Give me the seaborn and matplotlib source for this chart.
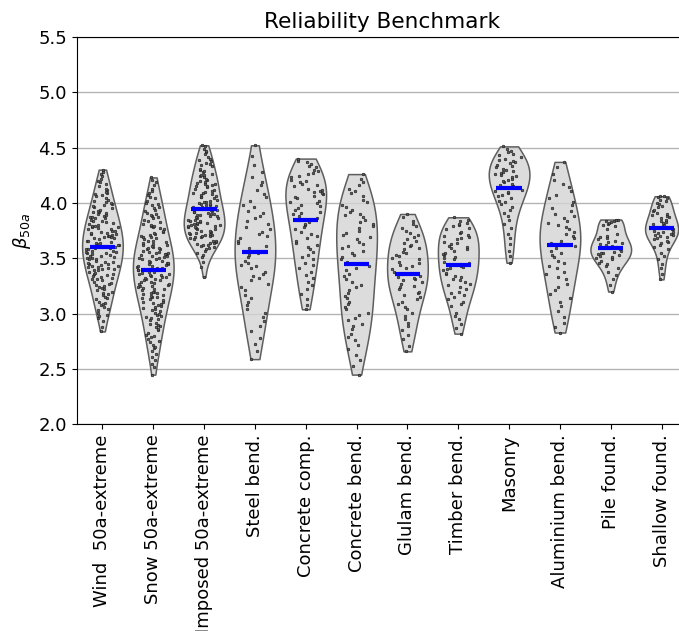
import numpy as np
import pandas as pd
import matplotlib
matplotlib.use("Agg")
import matplotlib.pyplot as plt
import seaborn as sns

# Limit-state cases along the x axis
categories = ["Wind  50a-extreme", "Snow 50a-extreme", "Imposed 50a-extreme",
              "Steel bend.", "Concrete comp.", "Concrete bend.", "Glulam bend.",
              "Timber bend.", "Masonry", "Aluminium bend.", "Pile found.",
              "Shallow found."]

# Reliability index beta_50a for each design case
wind = [2.84, 2.88, 2.93, 2.96, 2.98, 2.99, 3.01, 3.03, 3.04, 3.06, 3.08, 3.09,
        3.10, 3.11, 3.13, 3.14, 3.15, 3.17, 3.18, 3.19, 3.20, 3.21, 3.22, 3.23,
        3.24, 3.25, 3.26, 3.27, 3.28, 3.29, 3.30, 3.31, 3.31, 3.32, 3.33, 3.34,
        3.35, 3.36, 3.36, 3.37, 3.38, 3.39, 3.39, 3.40, 3.40, 3.41, 3.42, 3.42,
        3.43, 3.43, 3.44, 3.45, 3.45, 3.46, 3.47, 3.47, 3.48, 3.49, 3.49, 3.50,
        3.50, 3.51, 3.52, 3.52, 3.53, 3.54, 3.55, 3.55, 3.56, 3.56, 3.57, 3.57,
        3.58, 3.58, 3.59, 3.59, 3.60, 3.60, 3.61, 3.61, 3.61, 3.62, 3.62, 3.63,
        3.64, 3.64, 3.65, 3.66, 3.66, 3.67, 3.68, 3.68, 3.69, 3.69, 3.70, 3.70,
        3.71, 3.72, 3.72, 3.73, 3.73, 3.74, 3.75, 3.75, 3.76, 3.76, 3.77, 3.78,
        3.78, 3.79, 3.79, 3.80, 3.81, 3.82, 3.83, 3.84, 3.84, 3.85, 3.86, 3.86,
        3.87, 3.87, 3.88, 3.89, 3.90, 3.91, 3.92, 3.92, 3.93, 3.94, 3.95, 3.96,
        3.97, 3.98, 3.99, 4.00, 4.01, 4.02, 4.03, 4.04, 4.06, 4.07, 4.08, 4.09,
        4.10, 4.12, 4.13, 4.15, 4.17, 4.19, 4.20, 4.22, 4.24, 4.26, 4.28, 4.30]

snow = [2.45, 2.52, 2.55, 2.58, 2.61, 2.64, 2.66, 2.69, 2.70, 2.72, 2.74, 2.75,
        2.77, 2.79, 2.80, 2.81, 2.83, 2.85, 2.86, 2.88, 2.89, 2.90, 2.91, 2.92,
        2.94, 2.95, 2.96, 2.97, 2.98, 2.99, 3.00, 3.01, 3.02, 3.03, 3.04, 3.05,
        3.06, 3.07, 3.08, 3.09, 3.10, 3.11, 3.11, 3.12, 3.13, 3.14, 3.15, 3.15,
        3.16, 3.17, 3.18, 3.19, 3.19, 3.20, 3.20, 3.21, 3.22, 3.22, 3.23, 3.24,
        3.25, 3.25, 3.26, 3.27, 3.27, 3.28, 3.29, 3.29, 3.30, 3.30, 3.31, 3.31,
        3.32, 3.33, 3.33, 3.34, 3.35, 3.35, 3.36, 3.36, 3.37, 3.38, 3.38, 3.39,
        3.39, 3.40, 3.40, 3.41, 3.41, 3.42, 3.43, 3.43, 3.44, 3.45, 3.45, 3.46,
        3.46, 3.47, 3.48, 3.48, 3.49, 3.49, 3.50, 3.50, 3.51, 3.52, 3.52, 3.53,
        3.54, 3.54, 3.55, 3.55, 3.56, 3.56, 3.57, 3.58, 3.58, 3.59, 3.59, 3.60,
        3.61, 3.62, 3.62, 3.63, 3.64, 3.65, 3.66, 3.66, 3.67, 3.68, 3.69, 3.69,
        3.70, 3.71, 3.72, 3.73, 3.74, 3.75, 3.76, 3.77, 3.78, 3.79, 3.79, 3.80,
        3.81, 3.83, 3.84, 3.85, 3.86, 3.87, 3.88, 3.89, 3.90, 3.91, 3.93, 3.94,
        3.95, 3.96, 3.98, 3.99, 4.00, 4.02, 4.04, 4.05, 4.07, 4.09, 4.11, 4.13,
        4.16, 4.19, 4.21, 4.23]

imposed = [3.33, 3.42, 3.47, 3.51, 3.53, 3.55, 3.57, 3.58, 3.59, 3.60, 3.61,
           3.62, 3.62, 3.63, 3.64, 3.64, 3.65, 3.66, 3.66, 3.67, 3.68, 3.69,
           3.69, 3.70, 3.70, 3.71, 3.71, 3.72, 3.72, 3.73, 3.73, 3.74, 3.75,
           3.75, 3.76, 3.76, 3.77, 3.78, 3.78, 3.79, 3.79, 3.80, 3.80, 3.81,
           3.81, 3.82, 3.82, 3.83, 3.84, 3.84, 3.85, 3.85, 3.86, 3.86, 3.87,
           3.88, 3.88, 3.89, 3.89, 3.90, 3.90, 3.91, 3.92, 3.92, 3.93, 3.94,
           3.94, 3.95, 3.96, 3.96, 3.97, 3.98, 3.98, 3.99, 3.99, 4.00, 4.01,
           4.01, 4.02, 4.03, 4.04, 4.05, 4.05, 4.06, 4.07, 4.08, 4.09, 4.09,
           4.10, 4.11, 4.12, 4.13, 4.14, 4.15, 4.15, 4.16, 4.17, 4.17, 4.18,
           4.19, 4.20, 4.21, 4.22, 4.23, 4.24, 4.25, 4.25, 4.26, 4.28, 4.29,
           4.30, 4.31, 4.33, 4.34, 4.35, 4.36, 4.38, 4.39, 4.40, 4.41, 4.44,
           4.46, 4.47, 4.49, 4.51, 4.52]

steel = [2.59, 2.66, 2.73, 2.78, 2.84, 2.89, 2.93, 2.97, 3.01, 3.04, 3.08, 3.11,
         3.14, 3.17, 3.21, 3.24, 3.27, 3.30, 3.32, 3.34, 3.36, 3.38, 3.41, 3.43,
         3.44, 3.46, 3.48, 3.51, 3.53, 3.55, 3.57, 3.59, 3.61, 3.64, 3.66, 3.68,
         3.70, 3.72, 3.74, 3.76, 3.78, 3.81, 3.84, 3.86, 3.88, 3.91, 3.93, 3.96,
         3.98, 4.02, 4.05, 4.08, 4.12, 4.16, 4.19, 4.23, 4.28, 4.34, 4.42, 4.52]

concrete_comp = [3.04, 3.08, 3.13, 3.18, 3.22, 3.26, 3.29, 3.32, 3.35, 3.38,
                 3.41, 3.44, 3.46, 3.49, 3.51, 3.53, 3.56, 3.58, 3.60, 3.62,
                 3.64, 3.66, 3.68, 3.70, 3.72, 3.74, 3.76, 3.78, 3.80, 3.81,
                 3.83, 3.85, 3.86, 3.88, 3.90, 3.91, 3.92, 3.94, 3.95, 3.97,
                 3.98, 4.00, 4.01, 4.02, 4.04, 4.05, 4.06, 4.08, 4.09, 4.10,
                 4.11, 4.12, 4.13, 4.15, 4.16, 4.17, 4.19, 4.20, 4.21, 4.23,
                 4.24, 4.26, 4.27, 4.29, 4.30, 4.32, 4.33, 4.35, 4.37, 4.38,
                 4.40]

concrete_bend = [2.45, 2.53, 2.58, 2.63, 2.68, 2.72, 2.76, 2.79, 2.82, 2.86,
                 2.89, 2.91, 2.94, 2.96, 2.99, 3.01, 3.04, 3.06, 3.09, 3.11,
                 3.14, 3.16, 3.19, 3.21, 3.24, 3.26, 3.29, 3.31, 3.34, 3.36,
                 3.39, 3.41, 3.43, 3.45, 3.47, 3.49, 3.51, 3.53, 3.55, 3.57,
                 3.59, 3.61, 3.63, 3.65, 3.67, 3.69, 3.71, 3.73, 3.75, 3.77,
                 3.79, 3.81, 3.83, 3.85, 3.87, 3.89, 3.90, 3.92, 3.94, 3.96,
                 3.98, 4.01, 4.03, 4.06, 4.09, 4.11, 4.13, 4.16, 4.19, 4.22,
                 4.26]

glulam = [2.66, 2.71, 2.77, 2.81, 2.85, 2.89, 2.92, 2.95, 2.98, 3.01, 3.04,
          3.06, 3.09, 3.11, 3.13, 3.15, 3.17, 3.19, 3.20, 3.22, 3.24, 3.25,
          3.27, 3.29, 3.30, 3.31, 3.32, 3.33, 3.34, 3.36, 3.38, 3.40, 3.41,
          3.43, 3.44, 3.46, 3.47, 3.49, 3.50, 3.52, 3.53, 3.55, 3.56, 3.58,
          3.59, 3.61, 3.62, 3.64, 3.66, 3.67, 3.69, 3.71, 3.73, 3.75, 3.77,
          3.79, 3.81, 3.84, 3.87, 3.90]

timber = [2.82, 2.87, 2.91, 2.95, 2.98, 3.01, 3.07, 3.09, 3.11, 3.13, 3.15,
          3.17, 3.19, 3.20, 3.22, 3.24, 3.26, 3.27, 3.29, 3.30, 3.31, 3.33,
          3.34, 3.36, 3.37, 3.39, 3.40, 3.41, 3.42, 3.43, 3.45, 3.46, 3.47,
          3.49, 3.50, 3.51, 3.53, 3.54, 3.55, 3.57, 3.58, 3.59, 3.60, 3.61,
          3.63, 3.64, 3.65, 3.67, 3.68, 3.69, 3.70, 3.71, 3.73, 3.74, 3.76,
          3.77, 3.79, 3.80, 3.81, 3.82, 3.84, 3.85, 3.87]

masonry = [3.46, 3.52, 3.57, 3.63, 3.68, 3.72, 3.77, 3.81, 3.85, 3.88, 3.91,
           3.94, 3.96, 3.99, 4.01, 4.02, 4.04, 4.06, 4.07, 4.09, 4.10, 4.11,
           4.12, 4.14, 4.15, 4.16, 4.17, 4.19, 4.20, 4.21, 4.22, 4.23, 4.24,
           4.25, 4.26, 4.27, 4.28, 4.29, 4.30, 4.31, 4.32, 4.33, 4.34, 4.36,
           4.37, 4.38, 4.39, 4.40, 4.41, 4.43, 4.44, 4.46, 4.47, 4.49, 4.51]

aluminium = [2.83, 2.88, 2.92, 2.97, 3.02, 3.07, 3.11, 3.14, 3.18, 3.21, 3.24,
             3.27, 3.31, 3.33, 3.36, 3.38, 3.41, 3.43, 3.46, 3.48, 3.51, 3.53,
             3.55, 3.57, 3.59, 3.61, 3.63, 3.64, 3.66, 3.68, 3.70, 3.72, 3.74,
             3.76, 3.78, 3.80, 3.82, 3.84, 3.86, 3.88, 3.90, 3.93, 3.95, 3.98,
             4.01, 4.04, 4.07, 4.11, 4.14, 4.17, 4.21, 4.26, 4.32, 4.37]

pile = [3.20, 3.26, 3.31, 3.35, 3.38, 3.41, 3.43, 3.45, 3.46, 3.48, 3.49, 3.50,
        3.51, 3.52, 3.53, 3.54, 3.55, 3.55, 3.56, 3.57, 3.58, 3.59, 3.60, 3.61,
        3.62, 3.63, 3.64, 3.65, 3.66, 3.67, 3.68, 3.69, 3.70, 3.72, 3.76, 3.79,
        3.80, 3.81, 3.82, 3.83, 3.84, 3.84, 3.85, 3.85]

shallow = [3.31, 3.36, 3.41, 3.45, 3.49, 3.52, 3.55, 3.58, 3.60, 3.62, 3.64,
           3.65, 3.66, 3.67, 3.68, 3.69, 3.70, 3.71, 3.71, 3.72, 3.73, 3.74,
           3.74, 3.75, 3.76, 3.76, 3.77, 3.77, 3.78, 3.79, 3.80, 3.81, 3.82,
           3.83, 3.84, 3.85, 3.86, 3.87, 3.88, 3.89, 3.90, 3.91, 3.93, 3.94,
           3.96, 3.97, 3.99, 4.00, 4.02, 4.03, 4.04, 4.05, 4.06, 4.06]

series = [wind, snow, imposed, steel, concrete_comp, concrete_bend, glulam,
          timber, masonry, aluminium, pile, shallow]

df = pd.DataFrame({
    "case": np.repeat(categories, [len(s) for s in series]),
    "beta": np.concatenate([np.asarray(s, float) for s in series]),
})

plt.rcParams.update({"font.size": 13, "font.family": "DejaVu Sans"})

fig = plt.figure(figsize=(6.79, 6.31), dpi=100)
ax = fig.add_axes([0.1134, 0.3273, 0.8984, 0.6145])

violin_kw = dict(x="case", y="beta", order=categories, cut=0, inner=None,
                 density_norm="width", color="#d3d3d3",
                 linecolor="#5e5e5e", linewidth=1.1, saturation=1, ax=ax)
narrow = "Shallow found."
sns.violinplot(data=df[df["case"] != narrow], width=0.8, **violin_kw)
sns.violinplot(data=df[df["case"] == narrow], width=0.65, **violin_kw)

# translucent bodies so the grid shows through
bodies = list(ax.collections)
for body in bodies:
    body.set_facecolor((0.83, 0.83, 0.83, 0.8))

# spread the observations across each violin, scaled by its local half-width
rng = np.random.default_rng(11)
for body in bodies:
    verts = body.get_paths()[0].vertices
    cx = int(round(verts[:, 0].mean()))
    right = verts[verts[:, 0] > cx]
    order = np.argsort(right[:, 1])
    ys, hw = right[order, 1], right[order, 0] - cx
    vals = np.asarray(series[cx], float)
    u = rng.uniform(-1, 1, len(vals))
    xs = cx + u * np.interp(vals, ys, hw) * 0.85
    ax.scatter(xs, vals, s=3.5, facecolor="#606060", edgecolor="#1a1a1a",
               linewidths=0.45, zorder=3)

# mean of each case as a short blue bar
sns.boxplot(data=df, x="case", y="beta", order=categories, width=0.5,
            showbox=False, showcaps=False, showfliers=False,
            whiskerprops={"visible": False},
            medianprops={"visible": False},
            showmeans=True, meanline=True,
            meanprops={"color": "blue", "linestyle": "-", "linewidth": 3,
                       "zorder": 4},
            ax=ax)

ax.set_ylim(2.0, 5.5)
ax.set_yticks(np.arange(2.0, 5.51, 0.5))
ax.yaxis.grid(True, color="#b4b4b4", linewidth=1)
ax.set_axisbelow(True)
ax.set_xlabel("")
ax.set_ylabel(r"$\beta_{50a}$")
ax.set_title("Reliability Benchmark", fontsize=15.6)
ax.tick_params(axis="x", labelrotation=90)

fig.savefig("out.png", dpi=100)
